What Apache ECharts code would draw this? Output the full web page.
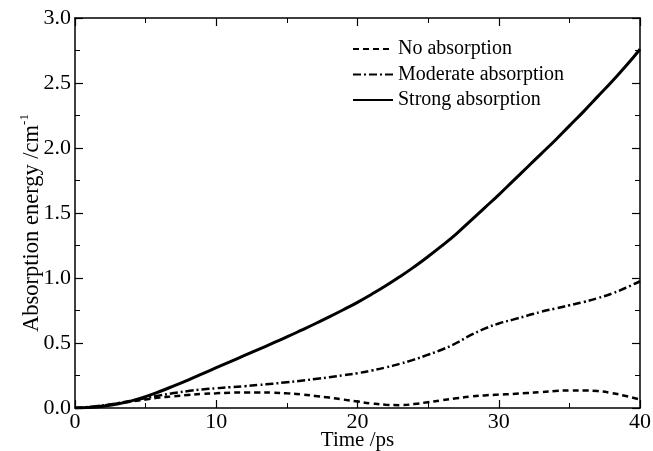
<!DOCTYPE html>
<html>
<head>
<meta charset="utf-8">
<script src="https://cdn.jsdelivr.net/npm/echarts@6/dist/echarts.min.js"></script>
<style>
  html, body { margin: 0; padding: 0; background: #fff; }
  #chart { width: 653px; height: 451px; }
</style>
</head>
<body>
<div id="chart"></div>
<script>
// Time axis (ps) and absorbed energy (cm^-1) for the three absorption strengths
const timePs = [0,1,2,3,4,5,6,7,8,9,10,11,12,13,14,15,16,17,18,19,20,
  21,22,23,24,25,26,27,28,29,30,31,32,33,34,35,36,37,38,39,40];

const noAbsorption = [0,0.008,0.02,0.035,0.05,0.065,0.08,0.09,0.10,0.108,0.113,
  0.118,0.12,0.12,0.118,0.113,0.105,0.093,0.08,0.065,0.05,
  0.035,0.025,0.022,0.03,0.045,0.06,0.075,0.088,0.097,0.103,
  0.108,0.115,0.122,0.13,0.135,0.135,0.13,0.115,0.092,0.065];

const moderateAbsorption = [0,0.008,0.02,0.037,0.056,0.077,0.097,0.115,0.13,0.143,0.152,
  0.16,0.168,0.177,0.187,0.198,0.21,0.223,0.237,0.252,0.268,
  0.288,0.312,0.34,0.372,0.41,0.45,0.50,0.56,0.61,0.65,
  0.68,0.71,0.74,0.765,0.79,0.815,0.845,0.88,0.925,0.975];

const strongAbsorption = [0,0.004,0.014,0.03,0.055,0.088,0.127,0.17,0.215,0.262,0.31,
  0.357,0.404,0.451,0.499,0.547,0.597,0.648,0.701,0.756,0.813,
  0.875,0.94,1.01,1.085,1.165,1.25,1.34,1.44,1.54,1.64,
  1.745,1.85,1.955,2.06,2.17,2.28,2.395,2.51,2.63,2.76];

const seriesNames = ['No absorption', 'Moderate absorption', 'Strong absorption'];
const xTicks = { min: 0, max: 40, interval: 10 };
const yTicks = { min: 0, max: 3, interval: 0.5 };

const font = 'Liberation Serif';
const pair = (xs, ys) => xs.map((x, i) => [x, ys[i]]);

const chart = echarts.init(document.getElementById('chart'));

const axisCommon = {
  type: 'value',
  axisLine: { show: true, onZero: false, lineStyle: { color: '#000', width: 1.5 } },
  axisTick: { show: true, inside: true, length: 8, lineStyle: { color: '#000', width: 1.2 } },
  minorTick: { show: true, splitNumber: 2, length: 5, lineStyle: { color: '#000', width: 1 } },
  splitLine: { show: false },
  minorSplitLine: { show: false }
};

chart.setOption({
  animation: false,
  backgroundColor: '#fff',
  textStyle: { fontFamily: font },
  grid: { left: 75, right: 13, top: 18, bottom: 43, containLabel: false, outerBoundsMode: 'none' },
  legend: {
    orient: 'vertical',
    left: 347,
    top: 34,
    itemWidth: 40,
    itemHeight: 14,
    itemGap: 5.5,
    data: seriesNames,
    itemStyle: { opacity: 0 },
    textStyle: { fontFamily: font, fontSize: 20, color: '#000' }
  },
  xAxis: [
    Object.assign({}, axisCommon, {
      min: xTicks.min, max: xTicks.max, interval: xTicks.interval,
      position: 'bottom',
      name: 'Time /ps',
      nameLocation: 'middle',
      nameGap: 22,
      nameMoveOverlap: false,
      nameTextStyle: { fontFamily: font, fontSize: 21, color: '#000' },
      axisLabel: { color: '#000', fontFamily: font, fontSize: 22, margin: 3 }
    }),
    Object.assign({}, axisCommon, {
      min: xTicks.min, max: xTicks.max, interval: xTicks.interval,
      position: 'top',
      axisLabel: { show: false }
    })
  ],
  yAxis: [
    Object.assign({}, axisCommon, {
      min: yTicks.min, max: yTicks.max, interval: yTicks.interval,
      position: 'left',
      name: 'Absorption energy /cm{sup|-1}',
      nameLocation: 'middle',
      nameGap: 29,
      nameMoveOverlap: false,
      nameTextStyle: {
        fontFamily: font, fontSize: 22.5, color: '#000', lineHeight: 28,
        padding: [0, 20, 0, 0],
        rich: {
          sup: { fontFamily: font, fontSize: 13, color: '#000', verticalAlign: 'top', lineHeight: 13 }
        }
      },
      axisLabel: {
        color: '#000', fontFamily: font, fontSize: 22, margin: 4,
        formatter: v => v.toFixed(1)
      }
    }),
    Object.assign({}, axisCommon, {
      min: yTicks.min, max: yTicks.max, interval: yTicks.interval,
      position: 'right',
      axisLabel: { show: false }
    })
  ],
  series: [
    {
      name: seriesNames[0], type: 'line', smooth: true, symbol: 'none',
      data: pair(timePs, noAbsorption),
      lineStyle: { color: '#000', width: 2.5, type: [6, 4] },
      itemStyle: { color: '#000' }
    },
    {
      name: seriesNames[1], type: 'line', smooth: true, symbol: 'none',
      data: pair(timePs, moderateAbsorption),
      lineStyle: { color: '#000', width: 2.5, type: [8, 3, 2, 3] },
      itemStyle: { color: '#000' }
    },
    {
      name: seriesNames[2], type: 'line', smooth: true, symbol: 'none',
      data: pair(timePs, strongAbsorption),
      lineStyle: { color: '#000', width: 3, type: 'solid' },
      itemStyle: { color: '#000' }
    }
  ]
});
</script>
</body>
</html>
